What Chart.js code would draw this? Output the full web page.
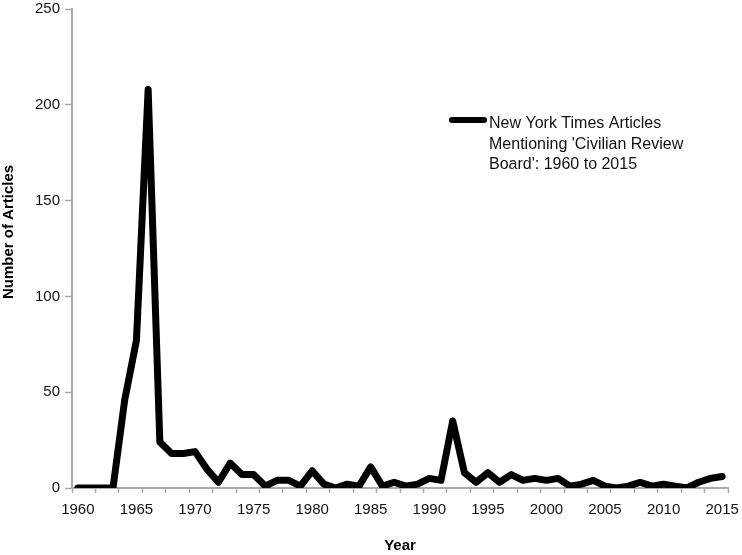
<!DOCTYPE html>
<html>
<head>
<meta charset="utf-8">
<script src="https://cdn.jsdelivr.net/npm/chart.js@4/dist/chart.umd.min.js"></script>
<style>
  html, body { margin: 0; padding: 0; background: #fff; }
  #wrap { width: 742px; height: 555px; }
</style>
</head>
<body>
<div id="wrap"><canvas id="myChart"></canvas></div>
<script>
// years on the category axis
const years = [];
for (let y = 1960; y <= 2015; y++) years.push(String(y));

// articles per year
const articles = [
    0, 0, 0, 0, 46, 77, 208, 24, 18, 18,
    19, 10, 3, 13, 7, 7, 1, 4, 4, 1,
    9, 2, 0, 2, 1, 11, 1, 3, 1, 2,
    5, 4, 35, 8, 3, 8, 3, 7, 4, 5,
    4, 5, 1, 2, 4, 1, 0, 1, 3, 1,
    2, 1, 0, 3, 5, 6
];

const yTicks = [0, 50, 100, 150, 200, 250];
const legendLines = ["New York Times Articles", "Mentioning 'Civilian Review", "Board': 1960 to 2015"];
const yTitle = "Number of Articles";

const axisGray = "#aaaaaa";
const fontFamily = "'Liberation Sans', Arial, Helvetica, sans-serif";

// legend text next to a line sample, plus the y axis title
const sideLegend = {
    id: "sideLegend",
    afterDraw(chart) {
        const ctx = chart.ctx;
        ctx.save();
        ctx.strokeStyle = "#000";
        ctx.lineWidth = 6;
        ctx.lineCap = "round";
        ctx.beginPath();
        ctx.moveTo(452, 120);
        ctx.lineTo(484, 120);
        ctx.stroke();
        ctx.fillStyle = "#111";
        ctx.font = "16px " + fontFamily;
        ctx.textBaseline = "middle";
        legendLines.forEach((line, i) => {
            ctx.fillText(line, 489, 124 + i * 20.5);
        });

        ctx.translate(9, 232);
        ctx.rotate(-Math.PI / 2);
        ctx.fillStyle = "#000";
        ctx.font = "bold 15px " + fontFamily;
        ctx.textAlign = "center";
        ctx.fillText(yTitle, 0, 0);
        ctx.restore();
    }
};

var ctx = document.getElementById("myChart").getContext("2d");
var myChart = new Chart(ctx, {
    type: "line",
    data: {
        labels: years,
        datasets: [{
            label: "New York Times Articles Mentioning 'Civilian Review Board': 1960 to 2015",
            data: articles,
            borderColor: "#000",
            borderWidth: 7,
            borderJoinStyle: "round",
            borderCapStyle: "round",
            pointRadius: 0,
            tension: 0,
            fill: false,
        }],
    },
    options: {
        responsive: true,
        maintainAspectRatio: false,
        animation: false,
        layout: { padding: { top: 0, right: 14, left: 0, bottom: 0 } },
        plugins: {
            legend: { display: false },
            tooltip: { enabled: false },
        },
        scales: {
            x: {
                type: "category",
                offset: true,
                afterFit: (s) => { s.height = 67; s.paddingLeft = 0; s.paddingRight = 0; },
                grid: {
                    offset: true,
                    drawOnChartArea: false,
                    tickLength: 5,
                    tickWidth: 1.5,
                    tickColor: (c) => (c.index === undefined || c.index % 2 === 0) ? axisGray : "transparent",
                },
                border: { color: axisGray, width: 2 },
                ticks: {
                    autoSkip: false,
                    maxRotation: 0,
                    padding: 8,
                    color: "#111",
                    font: { family: fontFamily, size: 15 },
                    callback: function (val, i) {
                        const y = Number(years[i]);
                        return y % 5 === 0 ? years[i] : "";
                    },
                },
                title: {
                    display: true,
                    text: "Year",
                    color: "#000",
                    padding: { top: 0, bottom: 0 },
                    font: { family: fontFamily, size: 15, weight: "bold" },
                },
            },
            y: {
                min: 0,
                max: 250,
                afterFit: (s) => { s.width = 72; s.paddingTop = 9; s.paddingBottom = 0; },
                afterBuildTicks: (s) => { s.ticks = yTicks.map(v => ({ value: v })); },
                grid: {
                    drawOnChartArea: false,
                    tickLength: 7,
                    tickWidth: 1.5,
                    tickColor: axisGray,
                },
                border: { color: axisGray, width: 2 },
                ticks: {
                    padding: 5,
                    color: "#111",
                    font: { family: fontFamily, size: 15 },
                },
            },
        },
    },
    plugins: [sideLegend],
});
</script>
</body>
</html>
